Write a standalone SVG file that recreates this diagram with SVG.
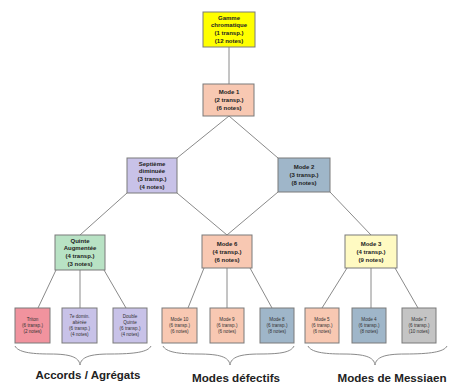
<svg xmlns="http://www.w3.org/2000/svg" width="453" height="388" viewBox="0 0 453 388">
<style>
.n{stroke:#7a7a7a;stroke-width:1}
.t{font-family:"Liberation Sans",Arial,sans-serif;font-size:6px;font-weight:bold;fill:#222;text-anchor:middle}
.s{font-family:"Liberation Sans",Arial,sans-serif;font-size:4.6px;fill:#333;text-anchor:middle}
.c line,.c path{stroke:#8a8a8a;stroke-width:1;fill:none}
.b{stroke:#8a8a8a;stroke-width:1;fill:none}
.l{font-family:"Liberation Sans",Arial,sans-serif;font-size:11.5px;font-weight:bold;fill:#222;text-anchor:middle}
.yel{fill:#ffff00}.sal{fill:#f8c8b2}.lav{fill:#c8c2e8}.blu{fill:#9fb6c9}.grn{fill:#b8e2c4}.ly{fill:#fffac2}.pnk{fill:#f1939e}.gry{fill:#c4c4c4}
</style>
<rect width="453" height="388" fill="#fff"/>
<g class="c">
<line x1="229" y1="47" x2="229" y2="84"/>
<line x1="229" y1="116" x2="177" y2="158"/>
<line x1="229" y1="116" x2="278" y2="158"/>
<line x1="127" y1="193" x2="80" y2="235"/>
<line x1="177" y1="193" x2="227" y2="235"/>
<line x1="278" y1="192" x2="227" y2="235"/>
<line x1="330" y1="192" x2="371" y2="235"/>
<line x1="56" y1="270" x2="38" y2="308"/>
<line x1="80" y1="270" x2="80" y2="308"/>
<line x1="104" y1="270" x2="126" y2="308"/>
<line x1="204" y1="268" x2="188" y2="308"/>
<line x1="227" y1="268" x2="227" y2="308"/>
<line x1="250" y1="268" x2="272" y2="308"/>
<line x1="347" y1="268" x2="322" y2="308"/>
<line x1="371" y1="268" x2="371" y2="308"/>
<line x1="395" y1="268" x2="418" y2="308"/>
</g>
<g id="gamme"><rect class="n yel" x="203" y="12" width="52" height="35"/>
<text class="t" x="229" y="20">Gamme</text><text class="t" x="229" y="27">chromatique</text><text class="t" x="229" y="35">(1 transp.)</text><text class="t" x="229" y="43">(12 notes)</text></g>
<g id="mode1"><rect class="n sal" x="203" y="84" width="51" height="32"/>
<text class="t" x="229" y="94">Mode 1</text><text class="t" x="229" y="102">(2 transp.)</text><text class="t" x="229" y="110">(6 notes)</text></g>
<g id="septieme"><rect class="n lav" x="127" y="158" width="50" height="35"/>
<text class="t" x="152" y="166">Septième</text><text class="t" x="152" y="173">diminuée</text><text class="t" x="152" y="181">(3 transp.)</text><text class="t" x="152" y="189">(4 notes)</text></g>
<g id="mode2"><rect class="n blu" x="278" y="158" width="52" height="34"/>
<text class="t" x="304" y="169">Mode 2</text><text class="t" x="304" y="177">(3 transp.)</text><text class="t" x="304" y="185">(8 notes)</text></g>
<g id="quinte"><rect class="n grn" x="55" y="235" width="50" height="35"/>
<text class="t" x="80" y="243">Quinte</text><text class="t" x="80" y="250">Augmentée</text><text class="t" x="80" y="258">(4 transp.)</text><text class="t" x="80" y="266">(3 notes)</text></g>
<g id="mode6"><rect class="n sal" x="202" y="235" width="50" height="33"/>
<text class="t" x="227" y="246">Mode 6</text><text class="t" x="227" y="254">(4 transp.)</text><text class="t" x="227" y="262">(6 notes)</text></g>
<g id="mode3"><rect class="n ly" x="345" y="235" width="52" height="33"/>
<text class="t" x="371" y="246">Mode 3</text><text class="t" x="371" y="254">(4 transp.)</text><text class="t" x="371" y="262">(9 notes)</text></g>
<g id="triton"><rect class="n pnk" x="15" y="308" width="35" height="35"/>
<text class="s" x="32.5" y="321">Triton</text><text class="s" x="32.5" y="327">(6 transp.)</text><text class="s" x="32.5" y="333">(2 notes)</text></g>
<g id="septdom"><rect class="n lav" x="62" y="308" width="35" height="35"/>
<text class="s" x="79.5" y="318">7e domin.</text><text class="s" x="79.5" y="324">altérée</text><text class="s" x="79.5" y="330">(6 transp.)</text><text class="s" x="79.5" y="336">(4 notes)</text></g>
<g id="doublequinte"><rect class="n lav" x="113" y="308" width="34" height="35"/>
<text class="s" x="130" y="318">Double</text><text class="s" x="130" y="324">Quinte</text><text class="s" x="130" y="330">(6 transp.)</text><text class="s" x="130" y="336">(4 notes)</text></g>
<g id="mode10"><rect class="n sal" x="162" y="308" width="35" height="35"/>
<text class="s" x="179.5" y="321">Mode 10</text><text class="s" x="179.5" y="327">(6 transp.)</text><text class="s" x="179.5" y="333">(6 notes)</text></g>
<g id="mode9"><rect class="n sal" x="210" y="308" width="34" height="35"/>
<text class="s" x="227" y="321">Mode 9</text><text class="s" x="227" y="327">(6 transp.)</text><text class="s" x="227" y="333">(6 notes)</text></g>
<g id="mode8"><rect class="n blu" x="260" y="308" width="34" height="35"/>
<text class="s" x="277" y="321">Mode 8</text><text class="s" x="277" y="327">(6 transp.)</text><text class="s" x="277" y="333">(8 notes)</text></g>
<g id="mode5"><rect class="n sal" x="305" y="308" width="34" height="35"/>
<text class="s" x="322" y="321">Mode 5</text><text class="s" x="322" y="327">(6 transp.)</text><text class="s" x="322" y="333">(6 notes)</text></g>
<g id="mode4"><rect class="n blu" x="352" y="308" width="34" height="35"/>
<text class="s" x="369" y="321">Mode 4</text><text class="s" x="369" y="327">(6 transp.)</text><text class="s" x="369" y="333">(8 notes)</text></g>
<g id="mode7"><rect class="n gry" x="402" y="308" width="34" height="35"/>
<text class="s" x="419" y="321">Mode 7</text><text class="s" x="419" y="327">(6 transp.)</text><text class="s" x="419" y="333">(10 notes)</text></g>
<g id="braces">
<path class="b" d="M15,346 C18,352 30,354 50,354 C70,354 79,357 80,365 C81,357 90,354 110,354 C135,354 148,352 151,346"/>
<path class="b" d="M163,346 C166,352 178,354 198,354 C220,354 229,357 230,365 C231,357 240,354 260,354 C282,354 291,352 294,346"/>
<path class="b" d="M308,346 C311,352 323,354 343,354 C365,354 374,357 375,365 C376,357 385,354 405,354 C430,354 444,352 447,346"/>
</g>
<g id="labels">
<text class="l" x="88" y="379" textLength="105" lengthAdjust="spacingAndGlyphs">Accords / Agrégats</text>
<text class="l" x="236" y="382" textLength="88" lengthAdjust="spacingAndGlyphs">Modes défectifs</text>
<text class="l" x="392" y="382" textLength="109" lengthAdjust="spacingAndGlyphs">Modes de Messiaen</text>
</g>
</svg>
